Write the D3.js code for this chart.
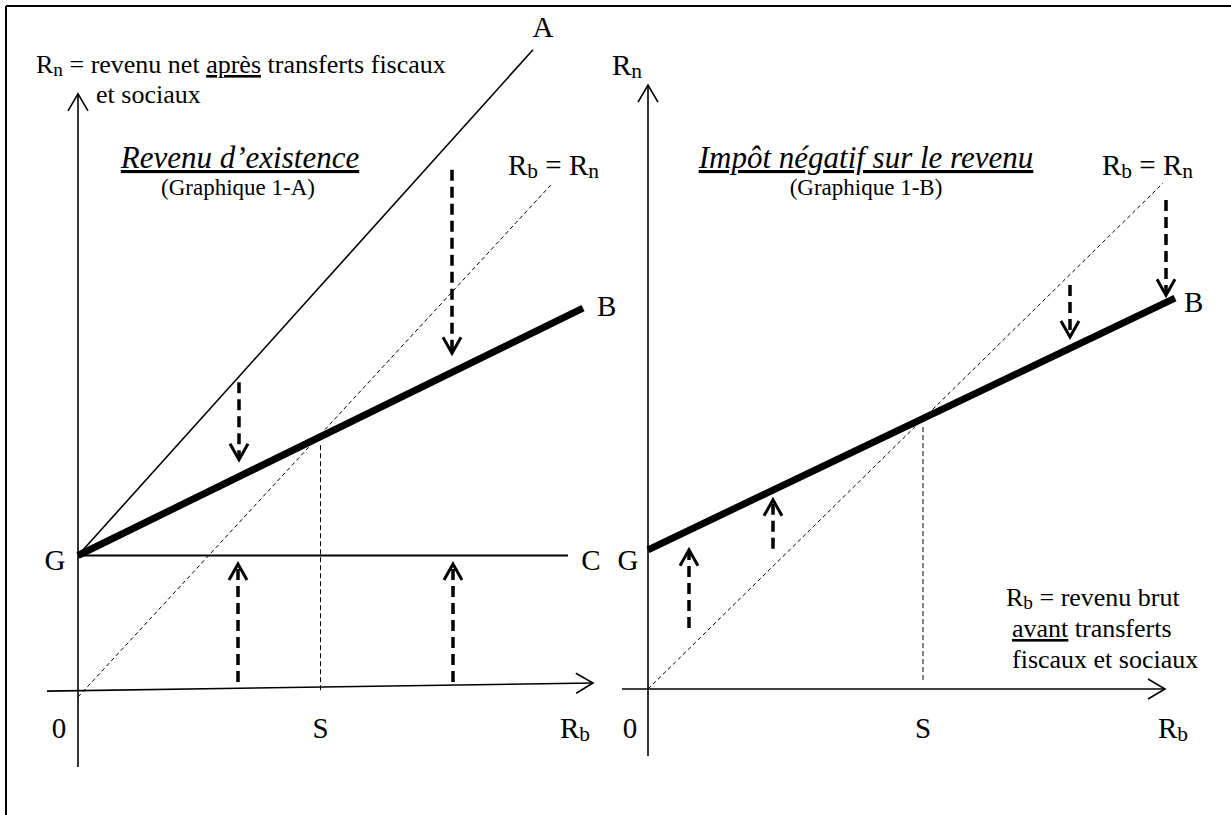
<!DOCTYPE html>
<html>
<head>
<meta charset="utf-8">
<script src="https://cdn.jsdelivr.net/npm/d3@7"></script>
<style>
  body { margin: 0; background: #fff; }
  svg text { font-family: "Liberation Serif", "Times New Roman", serif; fill: #000; }
</style>
</head>
<body>
<div id="chart"></div>
<script>
// Graphique 1-A : revenu d'existence (units of R_b / R_n)
const leftYAxis = [[0, -14.3], [0, 110.8]];
const leftXAxis = [[-6.2, -0.2], [103, 1.3]];
const leftLineGA = [[0, 25], [91, 119]];
const leftLineGC = [[0, 25], [98, 25]];
const leftLineGB = [[0, 25], [101, 71]];
const leftDiagonal = [[0, -1.3], [94.6, 93.9]];
const leftS = [[48.5, 45.5], [48.5, -0.3]];
// x, start, tip
const leftArrows = [[32.2, 57.2, 42.8], [74.8, 96.7, 62.6], [32, 1.5, 23.4], [75, 1.5, 23.4]];

// Graphique 1-B : impot negatif sur le revenu
const rightYAxis = [[0, -13.8], [0, 124.5]];
const rightXAxis = [[-5.2, 0], [103.4, 0]];
const rightLineGB = [[0, 28.7], [105.4, 80.6]];
const rightDiagonal = [[0, 0], [103, 104.3]];
const rightS = [[55, 54], [55, 1.9]];
const rightArrows = [[8.2, 12.6, 28.7], [25, 28.9, 39], [84.4, 83.3, 72.6], [103.6, 100.8, 81.2]];

const width = 1231, height = 815;

const svg = d3.select("#chart").append("svg")
    .attr("width", width)
    .attr("height", height);

// frame (top and left edges only are visible)
svg.append("line").attr("x1", 6).attr("y1", 6).attr("x2", width).attr("y2", 6)
    .attr("stroke", "#000").attr("stroke-width", 2);
svg.append("line").attr("x1", 6).attr("y1", 6).attr("x2", 6).attr("y2", height)
    .attr("stroke", "#000").attr("stroke-width", 2);

const xL = d3.scaleLinear().domain([0, 100]).range([78, 578]);
const yL = d3.scaleLinear().domain([0, 100]).range([690, 152]);
const xR = d3.scaleLinear().domain([0, 100]).range([648, 1148]);
const yR = d3.scaleLinear().domain([0, 100]).range([689, 204]);

function drawLine(g, pts, x, y, width, dash) {
    const line = d3.line().x(d => x(d[0])).y(d => y(d[1]));
    g.append("path")
        .attr("d", line(pts))
        .attr("fill", "none")
        .attr("stroke", "#000")
        .attr("stroke-width", width)
        .attr("stroke-dasharray", dash || null);
}

// open arrow head ("V") at the end of a segment
function arrowHead(g, x0, y0, x1, y1, w, len, sw) {
    const a = Math.atan2(y1 - y0, x1 - x0);
    const bx = x1 - len * Math.cos(a), by = y1 - len * Math.sin(a);
    const nx = -Math.sin(a) * w, ny = Math.cos(a) * w;
    g.append("path")
        .attr("d", `M${bx + nx},${by + ny}L${x1},${y1}L${bx - nx},${by - ny}`)
        .attr("fill", "none")
        .attr("stroke", "#000")
        .attr("stroke-width", sw)
        .attr("stroke-linejoin", "miter");
}

function drawAxes(g, xAxis, yAxis, x, y) {
    drawLine(g, xAxis, x, y, 1.6);
    drawLine(g, yAxis, x, y, 1.6);
    arrowHead(g, x(xAxis[0][0]), y(xAxis[0][1]), x(xAxis[1][0]), y(xAxis[1][1]), 10, 17, 1.6);
    arrowHead(g, x(yAxis[0][0]), y(yAxis[0][1]), x(yAxis[1][0]), y(yAxis[1][1]), 10, 17, 1.6);
}

function drawArrows(g, arrows, x, y) {
    arrows.forEach(d => {
        const px = x(d[0]), p0 = y(d[1]), p1 = y(d[2]);
        const dir = p1 > p0 ? 1 : -1;
        g.append("line")
            .attr("x1", px).attr("y1", p0)
            .attr("x2", px).attr("y2", p1 - dir * 2)
            .attr("stroke", "#000")
            .attr("stroke-width", 3.5)
            .attr("stroke-dasharray", "11,6");
        arrowHead(g, px, p0, px, p1, 9, 16, 3);
    });
}

// text with subscripts: parts = [[text, isSub, underline], ...]
function label(g, x, y, parts, opts) {
    opts = opts || {};
    const t = g.append("text")
        .attr("x", x).attr("y", y)
        .attr("font-size", opts.size || 29)
        .attr("text-anchor", opts.anchor || "start")
        .attr("font-style", opts.italic ? "italic" : null);
    let down = false;
    parts.forEach(p => {
        const s = t.append("tspan").text(p[0]);
        if (p[1] && !down) { s.attr("font-size", "0.74em").attr("dy", 3); down = true; }
        else if (!p[1] && down) { s.attr("dy", -3); down = false; }
        if (p[2]) s.style("text-decoration", "underline");
    });
    if (opts.underline) t.style("text-decoration", "underline");
    return t;
}

const descSize = 26;

// ---- left panel
const gl = svg.append("g");
drawAxes(gl, leftXAxis, leftYAxis, xL, yL);
drawLine(gl, leftDiagonal, xL, yL, 1, "4,3");
drawLine(gl, leftS, xL, yL, 1, "5,3");
drawLine(gl, leftLineGA, xL, yL, 1.6);
drawLine(gl, leftLineGC, xL, yL, 2.2);
drawLine(gl, leftLineGB, xL, yL, 7);
drawArrows(gl, leftArrows, xL, yL);

label(gl, 36, 73, [["R"], ["n", 1], [" = revenu net "], ["après", 0, 1], [" transferts fiscaux"]], {size: descSize});
label(gl, 96, 103, [["et sociaux"]], {size: descSize});
label(gl, xL(leftLineGA[1][0]) + 10, 37, [["A"]], {anchor: "middle"});
label(gl, 240, 168, [["Revenu d’existence"]], {size: 31, italic: true, anchor: "middle", underline: true});
label(gl, 238, 195, [["(Graphique 1-A)"]], {size: 23, anchor: "middle"});
label(gl, 508, 175, [["R"], ["b", 1], [" = R"], ["n", 1]]);
label(gl, xL(leftLineGB[1][0]) + 14, 316, [["B"]]);
label(gl, 55, 570, [["G"]], {anchor: "middle"});
label(gl, xL(leftLineGC[1][0]) + 23, 570, [["C"]], {anchor: "middle"});
label(gl, 59, 738, [["0"]], {anchor: "middle"});
label(gl, xL(leftS[0][0]), 738, [["S"]], {anchor: "middle"});
label(gl, 575, 738, [["R"], ["b", 1]], {anchor: "middle"});

// ---- right panel
const gr = svg.append("g");
drawAxes(gr, rightXAxis, rightYAxis, xR, yR);
drawLine(gr, rightDiagonal, xR, yR, 1, "4,3");
drawLine(gr, rightS, xR, yR, 1, "5,3");
drawLine(gr, rightLineGB, xR, yR, 7);
drawArrows(gr, rightArrows, xR, yR);

label(gr, 612, 75, [["R"], ["n", 1]]);
label(gr, 866, 168, [["Impôt négatif sur le revenu"]], {size: 31, italic: true, anchor: "middle", underline: true});
label(gr, 866, 195, [["(Graphique 1-B)"]], {size: 23, anchor: "middle"});
label(gr, 1102, 175, [["R"], ["b", 1], [" = R"], ["n", 1]]);
label(gr, xR(rightLineGB[1][0]) + 9, 312, [["B"]]);
label(gr, 628, 570, [["G"]], {anchor: "middle"});
label(gr, 1006, 606, [["R"], ["b", 1], [" = revenu brut"]], {size: descSize});
label(gr, 1012, 637, [["avant", 0, 1], [" transferts"]], {size: descSize});
label(gr, 1012, 668, [["fiscaux et sociaux"]], {size: descSize});
label(gr, 630, 738, [["0"]], {anchor: "middle"});
label(gr, xR(rightS[0][0]), 738, [["S"]], {anchor: "middle"});
label(gr, 1173, 738, [["R"], ["b", 1]], {anchor: "middle"});
</script>
</body>
</html>
